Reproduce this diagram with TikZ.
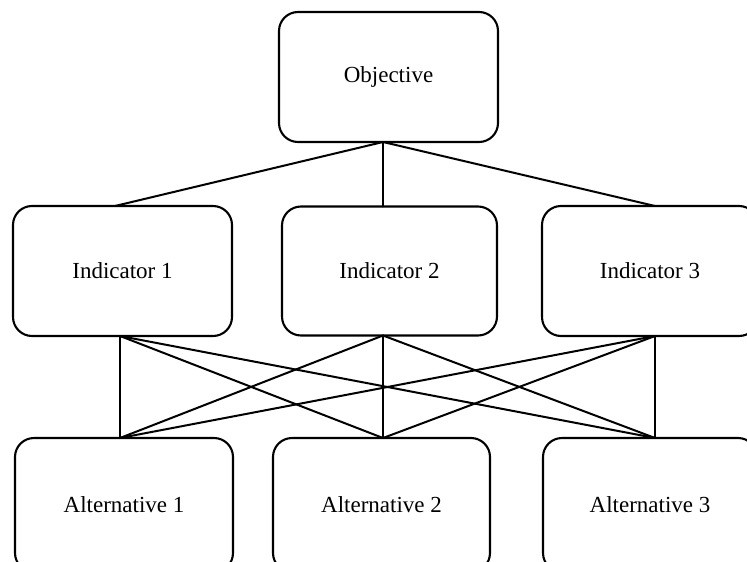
\documentclass[tikz,border=0pt]{standalone}
\usepackage{fontspec}
\setmainfont{Liberation Serif}
\begin{document}
\begin{tikzpicture}[x=1pt,y=-1pt,
  box/.style={draw, line width=2.1pt, rounded corners=19pt, inner sep=0pt, outer sep=0pt,
    minimum width=#1, font=\fontsize{23}{27}\selectfont},
  box/.default=218pt,
  link/.style={line width=2pt, line cap=round}]
\useasboundingbox (0,0) rectangle (747,562);
\clip (0,0) rectangle (747,562);
\node[box=219pt, minimum height=130pt] (obj) at (388.5,77) {Objective};
\node[box=219pt, minimum height=130pt] (ind1) at (122.5,271) {Indicator 1};
\node[box=215pt, minimum height=129pt] (ind2) at (389.5,271) {Indicator 2};
\node[box=216pt, minimum height=130pt] (ind3) at (650,271) {Indicator 3};
\node[box=218pt, minimum height=134pt] (alt1) at (124,505) {Alternative 1};
\node[box=217pt, minimum height=134pt] (alt2) at (381.5,505) {Alternative 2};
\node[box=214pt, minimum height=134pt] (alt3) at (650,505) {Alternative 3};
% objective to indicators
\draw[link] ([xshift=-5.5pt]obj.south) -- ([xshift=-7.5pt]ind1.north);
\draw[link] ([xshift=-5.5pt]obj.south) -- ([xshift=-6.5pt]ind2.north);
\draw[link] ([xshift=-5.5pt]obj.south) -- ([xshift=5pt]ind3.north);
% indicators to alternatives
\foreach \i/\ix in {ind1/-2.5pt, ind2/-6.5pt, ind3/5pt}{
  \foreach \a/\ax in {alt1/-4pt, alt2/1.5pt, alt3/5pt}{
    \draw[link] ([xshift=\ix]\i.south) -- ([xshift=\ax]\a.north);
  }
}
\end{tikzpicture}
\end{document}
